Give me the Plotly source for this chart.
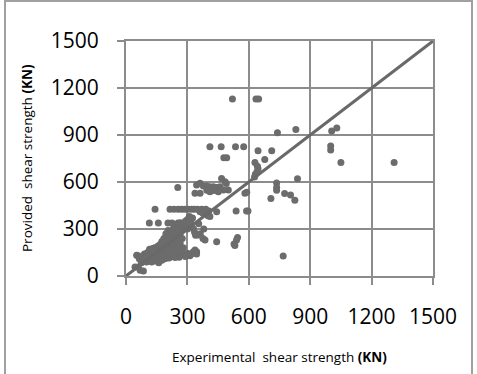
import plotly.graph_objects as go

# Experimental shear strength (KN) vs provided shear strength (KN)
pts = [
    # high / outlying points
    (520, 1130), (635, 1130), (648, 1130),
    (740, 915), (830, 935), (1005, 925), (1030, 945), (1000, 830), (1000, 805),
    (1050, 725), (1310, 725),
    (410, 825), (465, 825), (535, 825), (575, 825),
    (478, 755), (492, 755),
    (645, 800), (712, 800), (678, 743),
    (630, 725), (642, 700), (645, 685), (640, 665), (632, 650), (628, 632),
    (838, 621), (708, 494), (736, 594), (736, 565), (736, 547),
    (775, 526), (804, 517), (825, 483), (768, 128),
    # middle band
    (253, 565), (345, 581), (362, 592), (378, 575), (394, 574), (410, 570),
    (427, 570), (443, 565), (459, 570), (467, 623), (484, 602), (490, 590),
    (500, 549), (476, 549), (451, 538), (430, 545), (410, 538), (395, 548),
    (337, 528), (362, 528), (581, 528), (590, 535),
    (538, 415), (589, 415), (596, 415), (443, 410), (410, 380), (405, 415),
    (142, 426), (215, 426), (235, 426), (255, 426), (272, 426), (288, 426),
    (304, 426), (321, 426), (335, 426), (350, 426), (370, 426), (390, 426),
    (362, 410), (376, 400), (401, 385),
    (114, 338), (158, 338), (205, 338), (225, 338), (254, 338), (275, 335),
    (295, 340), (310, 330),
    # right of diagonal, lower
    (352, 262), (376, 240), (386, 230), (443, 219), (337, 166), (345, 155),
    (328, 153), (345, 140), (545, 245), (540, 230), (528, 205), (532, 195),
    (363, 270), (380, 300), (355, 334),
    # dense cluster near origin
    (44, 57), (69, 36), (85, 32), (60, 57), (52, 132),
    (60, 130), (65, 110), (75, 85), (85, 100), (90, 140), (90, 120),
    (100, 110), (100, 90), (105, 150), (110, 130), (110, 100), (115, 170),
    (115, 120), (120, 160), (120, 140), (125, 110), (125, 90), (130, 175),
    (130, 150), (135, 130), (135, 100), (140, 180), (140, 160), (140, 120),
    (145, 140), (145, 95), (150, 170), (150, 130), (150, 110), (155, 190),
    (155, 150), (155, 100), (160, 160), (160, 120), (160, 85), (165, 200),
    (165, 140), (165, 110), (170, 180), (170, 150), (170, 125), (175, 220),
    (175, 160), (175, 100), (180, 190), (180, 140), (180, 115), (185, 240),
    (185, 170), (185, 130), (190, 200), (190, 160), (190, 110), (195, 270),
    (195, 220), (195, 140), (200, 250), (200, 180), (200, 150), (200, 120),
    (205, 290), (205, 210), (205, 130), (210, 260), (210, 190), (210, 160),
    (210, 115), (215, 230), (215, 140), (220, 280), (220, 200), (220, 170),
    (220, 125), (225, 250), (225, 150), (230, 300), (230, 220), (230, 185),
    (230, 130), (235, 270), (235, 140), (240, 240), (240, 200), (240, 160),
    (245, 310), (245, 180), (245, 135), (250, 280), (250, 220), (250, 140),
    (255, 330), (255, 250), (255, 190), (260, 300), (260, 150), (265, 340),
    (265, 270), (265, 210), (270, 320), (270, 140), (275, 290), (275, 240),
    (280, 330), (280, 180), (285, 300), (285, 140), (290, 350), (290, 310),
    (295, 330), (300, 360), (300, 300), (305, 340), (310, 380), (310, 320),
    (315, 350), (320, 330), (325, 370), (330, 300), (335, 280), (340, 260),
    (300, 145), (312, 130), (320, 140), (290, 125), (260, 120), (240, 118),
    (215, 200), (205, 240), (195, 180), (185, 210), (175, 190), (165, 170),
    (150, 150), (135, 160), (120, 120), (105, 130), (95, 105), (80, 120),
]
exp_strength = [p[0] for p in pts]
prov_strength = [p[1] for p in pts]

line_x = [0, 1500]
line_y = [0, 1500]
tick_vals = [0, 300, 600, 900, 1200, 1500]
x_title = "Experimental  shear strength <b>(KN)</b>"
y_title = "Provided  shear strength <b>(KN)</b>"

grid = "rgb(140,140,140)"
fig = go.Figure()
fig.add_trace(go.Scatter(
    x=exp_strength, y=prov_strength, mode="markers",
    marker=dict(size=7, color="rgb(108,108,108)", line=dict(width=0)),
    hoverinfo="skip", showlegend=False))
fig.add_trace(go.Scatter(
    x=line_x, y=line_y, mode="lines",
    line=dict(color="rgb(105,105,105)", width=3),
    hoverinfo="skip", showlegend=False))

axis_common = dict(
    range=[0, 1500], tickvals=tick_vals, showgrid=True, gridcolor=grid,
    gridwidth=2, showline=True, linecolor=grid, linewidth=2, mirror=True,
    ticks="outside", ticklen=7, tickwidth=2, tickcolor=grid, zeroline=False,
    automargin=False,
    tickfont=dict(family="Open Sans", size=21, color="black"),
)
title_font = dict(family="Open Sans", size=13.5, color="black")
fig.update_layout(
    width=477, height=374,
    margin=dict(l=126, r=44, t=41, b=98),
    paper_bgcolor="white", plot_bgcolor="white",
    xaxis=dict(**axis_common, ticklabelstandoff=14),
    yaxis=dict(**axis_common, ticklabelstandoff=14),
    annotations=[
        dict(text=x_title, xref="paper", yref="paper", x=153 / 307,
             y=-81 / 235, xanchor="center", yanchor="middle",
             showarrow=False, font=title_font),
        dict(text=y_title, xref="paper", yref="paper", x=-99 / 307,
             y=118 / 235, xanchor="center", yanchor="middle",
             textangle=-90, showarrow=False, font=title_font),
    ],
    shapes=[dict(type="rect", xref="paper", yref="paper",
                 x0=-121/307, x1=346/307, y0=-100/235, y1=1 + 40/235,
                 line=dict(color="rgb(160,160,160)", width=2))],
)
fig.write_html("out.html")
